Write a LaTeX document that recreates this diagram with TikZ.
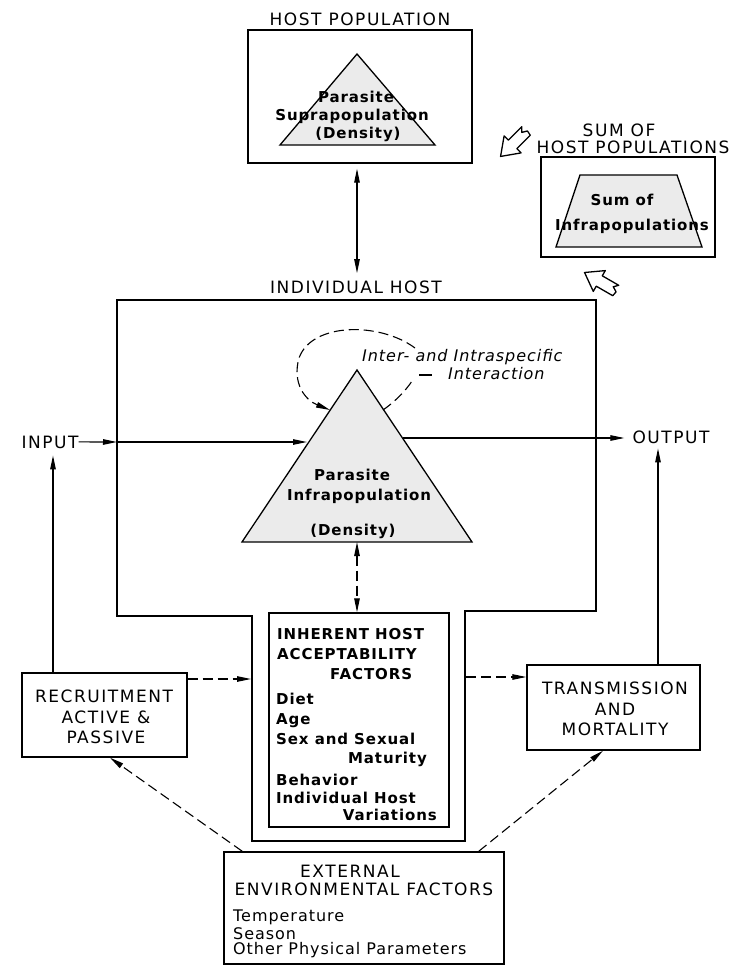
\documentclass[tikz,border=0pt]{standalone}
\usepackage{fontspec}
\setmainfont{DejaVu Sans}
\newfontfamily\capsfont[LetterSpace=9]{DejaVu Sans}
\newfontfamily\lcfont[LetterSpace=6]{DejaVu Sans}
\usetikzlibrary{arrows.meta}
\newcommand{\blockarrow}[3]{%
  \begin{scope}[shift={(#1,#2)},rotate=#3]
    \draw[hollow] (-17,-6) -- (2,-6) -- (2,-12) -- (19,0) -- (2,12) -- (2,6) -- (-17,6) -- (-13,2) -- (-18,-1) -- cycle;
  \end{scope}}
\begin{document}
\begin{tikzpicture}[x=1pt,y=-1pt,
 capsT/.style={font=\capsfont\fontsize{17}{20}\selectfont,inner sep=0pt,anchor=base},
 boldT/.style={font=\lcfont\bfseries\fontsize{15}{18}\selectfont,inner sep=0pt,anchor=base},
 plainT/.style={font=\lcfont\fontsize{16}{19}\selectfont,inner sep=0pt,anchor=base west},
 itT/.style={font=\lcfont\itshape\fontsize{16}{19}\selectfont,inner sep=0pt,anchor=base west},
 boxN/.style={draw,line width=1.4pt,inner sep=0pt},
 triS/.style={draw,line width=1.3pt,fill=black!8,line join=miter},
 outl/.style={draw,line width=1.3pt},
 arr/.style={line width=1.1pt,-{Triangle[length=14pt,width=5.5pt]}},
 arrb/.style={line width=1.1pt,{Triangle[length=14pt,width=5.5pt]}-{Triangle[length=14pt,width=5.5pt]}},
 dsh/.style={dash pattern=on 10pt off 5pt},
 hollow/.style={draw,line width=1.3pt,fill=white,line join=round}
]
\useasboundingbox (0,0) rectangle (734,966);

% ---------- host population ----------
\node[capsT] (hostlbl) at (360,26) {HOST POPULATION};
\node[boxN,minimum width=224pt,minimum height=133pt] (hostbox) at (360,96.5) {};
\draw[triS] (357,54) -- (280,145) -- (435,145) -- cycle;
\node[boldT] (sp1) at (356,102) {Parasite};
\node[boldT] (sp2) at (352,120) {Suprapopulation};
\node[boldT] (sp3) at (358,138) {(Density)};

% ---------- sum of host populations ----------
\node[capsT] (sumlbl1) at (619,136) {SUM OF};
\node[capsT] (sumlbl2) at (633,153) {HOST POPULATIONS};
\node[boxN,minimum width=174pt,minimum height=100pt] (sumbox) at (628,207) {};
\draw[triS] (580,175) -- (677,175) -- (702,247) -- (556,247) -- cycle;
\node[boldT] (si1) at (622,205) {Sum of};
\node[boldT] (si2) at (632,230) {Infrapopulations};

\blockarrow{514}{143}{225}
\blockarrow{601}{282}{150}

% ---------- individual host ----------
\node[capsT] (ihlbl) at (356,293) {INDIVIDUAL HOST};
\draw[outl] (117,300) -- (596,300) -- (596,611) -- (465,611) -- (465,841) -- (252,841) -- (252,616) -- (117,616) -- cycle;
\coordinate (inL) at (117,442);
\coordinate (olL) at (251,679);
\coordinate (olR) at (466,677);
\coordinate (vx) at (357,0);

\draw[triS] (357,370) -- (242,542) -- (472,542) -- cycle;
\coordinate (triL) at (307,442);
\coordinate (triR) at (403,438);
\coordinate (triB) at (357,542);
\coordinate (loopS) at (383,410);
\coordinate (loopE) at (330,410);
\node[boldT] (ip1) at (352,480) {Parasite};
\node[boldT] (ip2) at (359,500) {Infrapopulation};
\node[boldT] (ip3) at (353,535) {(Density)};

\node[itT] (int1) at (362,361) {Inter- and Intraspecific};
\node[itT] (int2) at (448,379) {Interaction};

% self-interaction loop
\draw[line width=1.1pt,dsh] (loopS) .. controls (400,398) and (409,386) .. (414,378);
\draw[line width=1.1pt] (419,375) -- (432,375);
\draw[line width=1.1pt,dsh,-{Triangle[length=14pt,width=5.5pt]}] (415,348) .. controls (380,322) and (312,322) .. (299,358) .. controls (292,383) and (305,400) .. (loopE);

% input / output
\node[capsT] (input) at (50,448) {INPUT};
\node[capsT] (output) at (671,443) {OUTPUT};
\coordinate (recX) at (53,0);
\coordinate (outX) at (658,0);
\draw[arr] (input.east) -- (inL);
\draw[arr] (inL) -- (triL);
\draw[arr] (triR) -- ([xshift=-8pt]output.west |- triR);

% host population link
\draw[arrb,shorten <=5pt,shorten >=7pt] (hostbox.south -| vx) -- (ihlbl.north -| vx);

% ---------- inherent host acceptability factors ----------
\node[boxN,minimum width=180pt,minimum height=214pt] (inhbox) at (359,720) {};
\draw[arrb,dsh] (triB) -- (inhbox.north -| triB);
\node[boldT,anchor=base west] (f1) at (277,639) {INHERENT HOST};
\node[boldT,anchor=base west] (f2) at (277,659) {ACCEPTABILITY};
\node[boldT,anchor=base west] (f3) at (330,679) {FACTORS};
\node[boldT,anchor=base west] (f4) at (276,704) {Diet};
\node[boldT,anchor=base west] (f5) at (276,724) {Age};
\node[boldT,anchor=base west] (f6) at (276,744) {Sex and Sexual};
\node[boldT,anchor=base east] (f7) at (427,763) {Maturity};
\node[boldT,anchor=base west] (f8) at (276,785) {Behavior};
\node[boldT,anchor=base west] (f9) at (276,803) {Individual Host};
\node[boldT,anchor=base east] (f10) at (437,820) {Variations};

% ---------- recruitment ----------
\node[boxN,minimum width=165pt,minimum height=84pt] (recbox) at (104.5,715) {};
\node[capsT] (r1) at (104,702) {RECRUITMENT};
\node[capsT] (r2) at (106,723) {ACTIVE \&};
\node[capsT] (r3) at (106,743) {PASSIVE};
\draw[arr] (recbox.north -| recX) -- ([yshift=-7pt]input.south -| recX);
\draw[arr,dsh] (recbox.east |- olL) -- (olL);

% ---------- transmission ----------
\node[boxN,minimum width=173pt,minimum height=85pt] (transbox) at (613.5,707.5) {};
\node[capsT] (t1) at (615,694) {TRANSMISSION};
\node[capsT] (t2) at (615,715) {AND};
\node[capsT] (t3) at (615,735) {MORTALITY};
\draw[arr] (transbox.north -| outX) -- ([yshift=-5pt]output.south -| outX);
\draw[arr,dsh] (olR) -- (transbox.west |- olR);

% ---------- external factors ----------
\node[boxN,minimum width=280pt,minimum height=112pt] (extbox) at (364,908) {};
\node[capsT] (e1) at (350,877) {EXTERNAL};
\node[capsT] (e2) at (364,895) {ENVIRONMENTAL FACTORS};
\node[plainT] (e3) at (233,921) {Temperature};
\node[plainT] (e4) at (233,939) {Season};
\node[plainT] (e5) at (233,954) {Other Physical Parameters};
\draw[arr,dsh] ([xshift=19pt]extbox.north west) -- ([xshift=5.5pt]recbox.south);
\draw[arr,dsh] ([xshift=-26pt]extbox.north east) -- ([xshift=-10.5pt]transbox.south);
\end{tikzpicture}
\end{document}
